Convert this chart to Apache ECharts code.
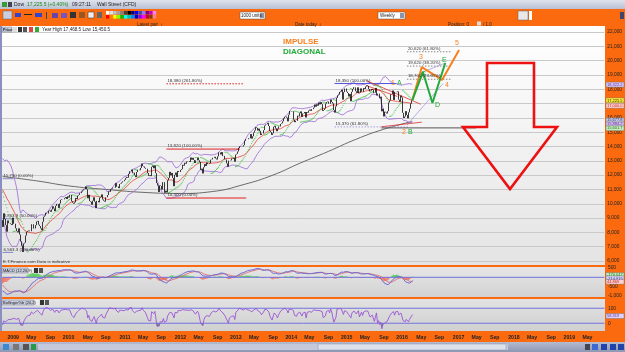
<!DOCTYPE html>
<html>
<head>
<meta charset="utf-8">
<script src="https://cdn.jsdelivr.net/npm/echarts@6/dist/echarts.min.js"></script>
<style>
  html, body { margin: 0; padding: 0; background: #fff; }
  #chart { width: 625px; height: 352px; }
</style>
</head>
<body>
<div id="chart"></div>
<script>
// weekly closes, Dow (Wall Street CFD), from 2008-06-06; the first 20 weeks only feed the indicators
const weeklyClose = [
  12210,12300,11840,11350, 11290,11100,11500,11370, 11330,11730,11660,11630,11540, 11220,11420,11390,11140, 10330,8450,8850,
  8380,9330, 8940,8500,8050,8830, 8640,8630,8580,8520,
  9030,8600,8280,8080,8000, 8280,7850,7370,7060, 6630,7220,7280,7780, 8020,8080,8130,8080, 8570,8570,8270,8280,8500, 8760,8800,8540,8440, 8280,8150,8740,9090,9170, 9370,9320,9500,9540, 9440,9600,9820,9670, 9490,9860,9990,9970,9710, 10020,10270,10320,10310, 10390,10470,10330,10520,
  10430,10620,10610,10170,10070, 10010,10100,10400,10330, 10570,10620,10740,10850, 10930,11000,11020,11200,11010, 10380,10620,10190,10140, 9930,10210,10450,10140, 9690,10200,10100,10420,10470, 10650,10300,10210,10150, 10450,10460,10610,10860, 10830,11010,11060,11130,11120, 11440,11190,11200,11090, 11380,11410,11490,11570,11580,
  11670,11790,11870,11820, 12090,12270,12390,12130, 12170,11990,11860,12220, 12380,12380,12340,12500,12810, 12640,12600,12510,12440, 12150,11950,12000,11930, 12580,12660,12480,12680,12140, 11440,11270,10820,11280, 11240,10990,11510,10770,10910, 10790,11640,11810,12230, 11980,12150,11800,11230, 12020,12180,11870,12290,12220,
  12360,12420,12720,12660, 12860,12800,12950,12980, 12980,12920,13230,13080,13210, 13060,12850,13030,13230, 13040,12920,12370,12450, 12120,12550,12770,12640,12880, 12770,12780,12820,13080, 13100,13210,13280,13160,13090, 13310,13590,13580,13440, 13610,13330,13340,13110, 13090,12820,12590,13010,13030, 13160,13140,13190,12940,
  13440,13490,13650,13900, 14010,13990,13980,14000, 14090,14400,14510,14510,14580, 14570,14870,14550,14710, 14970,15120,15350,15300,15120, 15250,15070,14800,14910, 15140,15460,15540,15560, 15660,15430,15080,15010,14810, 14920,15380,15450,15260, 15070,15240,15400,15570, 15620,15760,15960,16060,16090, 16020,15760,16220,16480,
  16470,16440,16460,15880,15700, 15790,16150,16100,16320, 16450,16070,16300,16320, 16410,16030,16410,16360, 16510,16580,16490,16610,16720, 16920,16780,16950,16850, 17070,16940,17100,16960, 16490,16550,16660,17000,17100, 17140,16990,17280,17110, 17010,16540,16380,16800,17390, 17570,17630,17810,17830, 17960,17280,17800,18050,
  17830,17740,17510,17670,17160, 17820,18020,18140,18130, 17860,17750,18130,17710, 17760,18060,17830,18080,18020, 18190,18270,18230,18010, 17850,17900,18020,17950, 17730,17760,18090,17570,17690, 17370,17480,16460,16640, 16100,16430,16380,16310, 16470,17080,17220,17650,17660, 17910,17250,17820,17800, 17850,17270,17130,17550,17430,
  16350,15990,16090,16470, 16200,15970,16390,16640, 17010,17220
];
const hiddenWeeks = 20;          // 2008-06-06 .. 2008-10-17
const firstWeek = Date.UTC(2008, 9, 24);
const weekCount = 566;           // axis runs on to mid 2019

// 200 week average
const ma200 = [
  ['2008-10-24',11900],['2009-06-05',11600],['2010-01-01',11250],['2010-09-03',11000],['2011-06-03',10780],
  ['2012-01-06',10720],['2012-08-03',10850],['2013-03-01',11350],['2013-09-06',12000],['2014-03-07',12850],
  ['2014-09-05',13650],['2015-03-06',14500],['2015-09-04',15200],['2016-03-11',15750]
];

// projected waves
const impulseWave  = [['2016-03-11',17220],['2016-05-13',19550],['2016-09-23',18650],['2017-01-13',20740]];
const diagonalWave = [['2016-03-11',17220],['2016-05-20',19200],['2016-07-22',17040],['2016-10-14',19830]];

// fibonacci levels: from, to, price, label, colour, type
const fibLevels = [
  ['2011-10-07','2013-03-01',18380,'18,380 (261.80%)','#e02020','dotted'],
  ['2011-10-07','2013-02-01',13820,'13,820 (100.00%)','#e02020','solid'],
  ['2011-10-07','2013-03-15',10400,'10,400 (0.00%)','#e02020','solid'],
  ['2014-10-17','2015-11-27',18400,'18,350 (100.00%)','#5555dd','solid'],
  ['2014-10-17','2016-02-12',15370,'15,370 (61.80%)','#a89ce0','dotted'],
  ['2015-08-21','2017-05-05',15300,'','#555555','solid'],
  ['2016-02-05','2016-11-25',20620,'20,620 (61.80%)','#888888','dotted'],
  ['2016-02-05','2016-11-25',19620,'19,620 (38.20%)','#888888','dotted'],
  ['2016-02-05','2016-11-25',18700,'18,700 (23.60%)','#888888','dotted'],
  ['2008-10-24','2009-01-02',11750,'11,750 (0.00%)','#8888cc','solid'],
  ['2008-10-24','2009-01-02',8950,'8,863.9 (50.00%)','#8888cc','solid'],
  ['2008-10-24','2009-01-02',6600,'6,563.3 (100.00%)','#8888cc','solid']
];

// channel and trend lines
const trendLines = [
  [['2016-02-05',15500],['2016-09-30',18400],'#a89ce0'],
  [['2016-05-20',19200],['2016-10-14',19830],'#a89ce0'],
  [['2015-05-15',18600],['2016-05-06',16950],'#e03030'],
  [['2015-08-21',15380],['2016-05-13',15700],'#e03030'],
  [['2015-05-15',18250],['2015-12-04',17500],'#e03030']
];

const weeks = [];
for (let k = 0; k < weekCount; k++) weeks.push(new Date(firstWeek + k * 7 * 864e5).toISOString().slice(0, 10));
const wk = s => Math.round((Date.parse(s) - firstWeek) / (7 * 864e5));

// indicators from the closes
const opens = weeklyClose.map((c, i) => i ? weeklyClose[i - 1] : c);
const highs = weeklyClose.map((c, i) => Math.max(c, opens[i]));
const lows = weeklyClose.map((c, i) => Math.min(c, opens[i]));
function ema(a, n) { const k = 2 / (n + 1); let p = a[0]; return a.map((v, i) => (p = i ? v * k + p * (1 - k) : v)); }
const bbMid = [], bbUp = [], bbLo = [];
weeklyClose.forEach((c, i) => {
  const w = weeklyClose.slice(Math.max(0, i - 19), i + 1);
  const m = w.reduce((s, v) => s + v, 0) / w.length;
  const sd = Math.sqrt(w.reduce((s, v) => s + (v - m) * (v - m), 0) / w.length);
  bbMid.push(m); bbUp.push(m + 2 * sd); bbLo.push(m - 2 * sd);
});
const e12 = ema(weeklyClose, 12), e26 = ema(weeklyClose, 26);
const macd = e12.map((v, i) => v - e26[i]);
const signal = ema(macd, 9);
const hist = macd.map((v, i) => v - signal[i]);
const pctB = weeklyClose.map((c, i) => bbUp[i] > bbLo[i] ? (c - bbLo[i]) / (bbUp[i] - bbLo[i]) * 100 : 50);
function psar(hi, lo) {
  const out = [lo[0]]; let up = true, af = 0.02, ep = hi[0], sar = lo[0];
  for (let i = 1; i < hi.length; i++) {
    sar = sar + af * (ep - sar);
    if (up) {
      sar = Math.min(sar, lo[i - 1], lo[Math.max(0, i - 2)]);
      if (lo[i] < sar) { up = false; sar = ep; ep = lo[i]; af = 0.02; }
      else if (hi[i] > ep) { ep = hi[i]; af = Math.min(af + 0.02, 0.2); }
    } else {
      sar = Math.max(sar, hi[i - 1], hi[Math.max(0, i - 2)]);
      if (hi[i] > sar) { up = true; sar = ep; ep = hi[i]; af = 0.02; }
      else if (lo[i] < ep) { ep = lo[i]; af = Math.min(af + 0.02, 0.2); }
    }
    out.push(sar);
  }
  return out;
}
const sar = psar(highs, lows);

const vis = a => a.slice(hiddenWeeks);
const candles = vis(weeklyClose.map((c, i) => [opens[i], c, lows[i], highs[i]]));
const ORANGE = '#fb6a0e';
const FONT = 'Liberation Sans';

const series = [];
const line = (name, data, color, width, xi, extra) => Object.assign({
  name, type: 'line', data, xAxisIndex: xi || 0, yAxisIndex: xi || 0, symbol: 'none',
  lineStyle: { color, width }, silent: true, z: 3
}, extra || {});

series.push(line('ma200', ma200.map(p => [wk(p[0]), p[1]]), '#5a5a5a', 0.9, 0, { smooth: true }));
series.push(line('bbUp', vis(bbUp), '#9a66d8', 0.8));
series.push(line('bbLo', vis(bbLo), '#9a66d8', 0.8));
series.push(line('bbMid', vis(bbMid), '#e8403a', 0.8));
series.push({ name: 'sar', type: 'scatter', data: vis(sar).map((v, i) => [i, v]), symbolSize: 1.2,
  itemStyle: { color: '#33bb33' }, silent: true, z: 3 });
series.push({ name: 'price', type: 'candlestick', data: candles, barWidth: 1.3, z: 4,
  itemStyle: { color: '#0a0a0a', color0: '#0a0a0a', borderColor: '#0a0a0a', borderColor0: '#0a0a0a', borderWidth: 0.8 } });

fibLevels.forEach(f => {
  series.push(line('fib', [[wk(f[0]), f[2]], [wk(f[1]), f[2]]], f[4], 1, 0,
    { lineStyle: { color: f[4], width: 1, type: f[5] === 'dotted' ? [1.5, 1.5] : 'solid' } }));
});
trendLines.forEach(t => series.push(line('trend', [[wk(t[0][0]), t[0][1]], [wk(t[1][0]), t[1][1]]], t[2], 0.8)));
series.push(line('impulse', impulseWave.map(p => [wk(p[0]), p[1]]), '#f7801e', 2, 0, { z: 6 }));
series.push(line('diagonal', diagonalWave.map(p => [wk(p[0]), p[1]]), '#22aa3a', 2, 0, { z: 6 }));

// MACD panel
series.push({ name: 'hist', type: 'bar', xAxisIndex: 1, yAxisIndex: 1, barWidth: 1.2, silent: true,
  data: vis(hist).map(v => ({ value: v, itemStyle: { color: v >= 0 ? '#5fcf5f' : '#f07a6a' } })) });
series.push(line('zero', [[0, 0], [weekCount - 1, 0]], '#7373e0', 1, 1));
series.push(line('signal', vis(signal), '#e06060', 0.8, 1));
series.push(line('macd', vis(macd), '#6a6ad8', 1, 1));

// Bollinger %b panel
const osc = vis(pctB);
series.push(line('hiFill', osc.map(v => Math.max(v, 100)), '#000', 0, 2,
  { lineStyle: { width: 0 }, areaStyle: { origin: 100, color: '#9c6a78', opacity: 1 } }));
series.push(line('loFill', osc.map(v => Math.min(v, 0)), '#000', 0, 2,
  { lineStyle: { width: 0 }, areaStyle: { origin: 0, color: '#5c9c5c', opacity: 1 } }));
series.push(line('l100', [[0, 100], [weekCount - 1, 100]], '#7373e0', 1, 2));
series.push(line('l0', [[0, 0], [weekCount - 1, 0]], '#7373e0', 1, 2));
series.push(line('osc', osc, '#9a55d6', 0.9, 2));

const grids = [
  { left: 2, right: 20, top: 32, height: 229 },
  { left: 2, right: 20, top: 268, height: 28 },
  { left: 2, right: 20, top: 300, height: 30 }
];
const xAxes = grids.map((g, i) => ({
  type: 'category', gridIndex: i, data: weeks, boundaryGap: true,
  axisLine: { show: false }, axisTick: { show: false }, splitLine: { show: false },
  axisLabel: i < 2 ? { show: false } : {
    interval: (n, v) => { const d = new Date(v); return d.getUTCDate() <= 7 && d.getUTCMonth() % 4 === 0; },
    formatter: v => { const d = new Date(v); const m = d.getUTCMonth(); return m === 0 ? String(d.getUTCFullYear()) : (m === 4 ? 'May' : 'Sep'); },
    fontSize: 5.2, color: '#222', fontWeight: 'bold', fontFamily: FONT, margin: 5, align: 'center'
  }
}));
const yLabel = { fontSize: 4.8, color: '#222', fontFamily: FONT, margin: 3 };
const yAxes = [
  { gridIndex: 0, position: 'right', min: 6000, max: 22000, interval: 1000,
    axisLabel: Object.assign({ formatter: v => v.toLocaleString('en-US') }, yLabel),
    axisLine: { show: false }, axisTick: { show: false }, splitLine: { lineStyle: { color: '#c9c9c9', width: 1 } } },
  { gridIndex: 1, position: 'right', min: -1000, max: 500, interval: 500,
    axisLabel: Object.assign({ formatter: v => v === 0 ? '' : v.toLocaleString('en-US') }, yLabel),
    axisLine: { show: false }, axisTick: { show: false }, splitLine: { show: false } },
  { gridIndex: 2, position: 'right', min: -45, max: 155, interval: 5,
    axisLabel: Object.assign({ formatter: v => (v === 0 || v === 100) ? String(v) : '' }, yLabel),
    axisLine: { show: false }, axisTick: { show: false }, splitLine: { show: false } }
];

const txt = (x, y, text, size, color, extra) => ({ type: 'text', x, y, z: 50, silent: true,
  style: Object.assign({ text, fontSize: size, fill: color, fontFamily: FONT }, extra || {}) });
const rect = (x, y, w, h, fill, z, extra) => ({ type: 'rect', z: z === undefined ? -5 : z, silent: true,
  shape: { x, y, width: w, height: h }, style: Object.assign({ fill }, extra || {}) });
const grad = (a, b) => ({ type: 'linear', x: 0, y: 0, x2: 0, y2: 1, colorStops: [{ offset: 0, color: a }, { offset: 1, color: b }] });

const palette = ['#ffffff','#e0e0e0','#c0c0c0','#a0a0a0','#808080','#404040','#000000','#000080','#0000ff','#4040c0','#8080ff','#800080','#c000c0','#ff80ff',
                 '#ff0000','#ff8000','#ffff00','#80ff00','#00c000','#00ffff','#00c0c0','#0080ff','#0000c0','#8000ff','#ff00ff','#c00040','#804000','#ff8080'];
const graphics = [
  rect(0, 0, 625, 9, grad('#dfe3ee', '#b9c0d4')),
  rect(2, 2, 5, 5, '#3a9a3a', 1), rect(8, 2, 4, 5, '#445', 1),
  txt(14, 2, 'Dow', 5, '#222'), txt(27, 2, '17,225.5 (+0.40%)', 5, '#1a8a1a'), txt(72, 2, '09:27:11', 5, '#222'), txt(97, 2, 'Wall Street (CFD)', 5, '#222'),
  rect(0, 9, 625, 17, ORANGE),
  rect(3, 11, 9, 8, '#c9cfe0', 1, { stroke: '#667', lineWidth: 0.5 }),
  rect(15, 13, 6, 4, '#3344cc', 1), rect(24, 14, 8, 1, '#222', 1), rect(35, 13, 7, 4, '#3344cc', 1),
  rect(46, 12, 1, 7, '#444', 1), rect(52, 13, 6, 5, '#6644aa', 1), rect(61, 13, 6, 5, '#7755bb', 1),
  rect(70, 12, 6, 6, '#333', 1), rect(79, 12, 6, 6, '#995522', 1), rect(88, 12, 6, 6, '#eee', 1, { stroke: '#333', lineWidth: 0.5 }),
  rect(97, 12, 5, 6, '#666', 1),
  rect(240, 12, 25, 7, '#fff', 1, { stroke: '#555', lineWidth: 0.5 }), rect(260, 13, 4, 5, '#8a93b0', 1), txt(241, 13.5, '1000 units', 4.5, '#222'),
  rect(378, 12, 27, 7, '#fff', 1, { stroke: '#555', lineWidth: 0.5 }), rect(400, 13, 4, 5, '#8a93b0', 1), txt(380, 13.5, 'Weekly', 4.5, '#222'),
  rect(518, 11, 10, 9, '#e8e8e8', 1, { stroke: '#666', lineWidth: 0.5 }), rect(529, 11, 3, 9, '#fff', 1),
  rect(620, 12, 4, 7, '#446', 1),
  txt(137, 22, 'Latest pair  \u2195', 4.5, '#222'), txt(295, 22, 'Date today  \u2195', 4.5, '#222'),
  txt(448, 22, 'Position: 0', 4.5, '#222'), rect(477, 21.5, 4, 4, '#ddd', 1), txt(483, 22, '/ 1.0', 4.5, '#222'),
  rect(2, 26, 603, 239, grad('#ffffff', '#e4e4e4'), -10),
  rect(2, 267, 603, 30, grad('#e6e6e6', '#d2d2d2'), -10),
  rect(2, 299, 603, 32, grad('#e2e2e2', '#d0d0d0'), -10),
  rect(605, 26, 20, 316, ORANGE, -4),
  rect(0, 265, 605, 2, ORANGE, 20), rect(0, 297, 605, 2, ORANGE, 20),
  rect(0, 331, 625, 11, ORANGE, -4),
  rect(0, 26, 2, 305, '#8b8fbf', 20),
  rect(0, 342, 625, 10, grad('#b4bbd2', '#8e97b3'), 20),
  rect(38, 344, 470, 6, '#c4cadb', 21), rect(318, 344, 188, 6, '#dde1ec', 21, { stroke: '#8890aa', lineWidth: 0.5 }),
  rect(3, 344, 6, 6, '#3a8ad0', 21), rect(13, 344, 6, 6, '#777', 21), rect(23, 344, 6, 6, '#555', 21), rect(31, 344, 5, 6, '#2a9a4a', 21),
  rect(585, 344, 5, 6, '#445', 21), rect(592, 344, 6, 6, '#3a6ad0', 21), rect(601, 344, 6, 6, '#2244aa', 21), rect(610, 344, 6, 6, '#2244aa', 21), rect(618, 344, 6, 6, '#2244aa', 21),
  rect(2, 27, 10, 5, '#c9cfe0', 21, { stroke: '#667', lineWidth: 0.4 }), txt(3, 27.8, 'Price', 3.8, '#222', { fontWeight: 'bold' }),
  rect(13, 27, 4, 5, '#ddd', 21), rect(18, 27, 4, 5, '#333', 21), rect(23, 27, 4, 5, '#555', 21), rect(29, 27, 4, 5, '#d44', 21), rect(35, 27, 4, 5, '#3a3', 21),
  txt(42, 27.6, 'Year High 17,468.5 Low 15,450.5', 4.6, '#222'),
  txt(3, 260, 'E.T.Finance.com Data is indicative', 4.4, '#333'),
  rect(2, 268, 26, 5, '#c9cfe0', 21, { stroke: '#667', lineWidth: 0.4 }), txt(3, 268.6, 'MACD (12,26,9)', 4, '#222'),
  rect(29, 268, 4, 5, '#eee', 21), rect(34, 268, 4, 5, '#333', 21), rect(39, 268, 4, 5, '#555', 21),
  rect(2, 300, 32, 5, '#c9cfe0', 21, { stroke: '#667', lineWidth: 0.4 }), txt(3, 300.6, 'Bollinger%b (20,2)', 4, '#222'),
  rect(35, 300, 4, 5, '#eee', 21), rect(40, 300, 4, 5, '#333', 21), rect(45, 300, 4, 5, '#555', 21),
  txt(283, 38, 'IMPULSE', 8, '#f7801e', { fontWeight: 'bold' }),
  txt(283, 48, 'DIAGONAL', 8, '#22aa3a', { fontWeight: 'bold' }),
  txt(391, 80, '1', 7, '#f7801e'), txt(397, 80, 'A', 7, '#22aa3a'),
  txt(402, 129, '2', 7, '#f7801e'), txt(408, 129, 'B', 7, '#22aa3a'),
  txt(419, 54, '3', 7, '#f7801e'), txt(445, 82, '4', 7, '#f7801e'), txt(455, 40, '5', 7, '#f7801e'),
  txt(421, 71, 'C', 7, '#22aa3a'), txt(435, 102, 'D', 7, '#22aa3a'), txt(442, 57, 'E', 7, '#22aa3a'),
  { type: 'polygon', z: 40, silent: true,
    shape: { points: [[487, 63], [534, 63], [534, 127], [557, 127], [510, 189], [463, 127], [487, 127]] },
    style: { fill: 'none', stroke: '#ee1111', lineWidth: 2.6 } }
];
palette.forEach((c, i) => graphics.push(rect(106 + (i % 14) * 3.6, 11 + Math.floor(i / 14) * 4, 3.4, 3.6, c, 1)));

const chart = echarts.init(document.getElementById('chart'), null, { renderer: 'canvas' });
chart.setOption({
  animation: false,
  backgroundColor: '#ffffff',
  textStyle: { fontFamily: FONT },
  grid: grids,
  xAxis: xAxes,
  yAxis: yAxes,
  series,
  graphic: graphics
});

// fibonacci captions sit just above the start of each level
const fibText = fibLevels.filter(f => f[3]).map(f => {
  const p = chart.convertToPixel({ xAxisIndex: 0, yAxisIndex: 0 }, [wk(f[0]), f[2]]);
  return txt(p[0] + 1, p[1] - 5, f[3], 4.4, '#333');
});

// coloured value tags on the right scale
const last = weeklyClose.length - 1;
const fmt = v => v.toFixed(1).replace(/\B(?=(\d{3})+(?!\d))/, ',');
const tag = (gi, v, txtv, fill, color) => {
  const y = chart.convertToPixel({ gridIndex: gi }, [0, v])[1];
  return [rect(606, y - 2.5, 18, 5, fill, 30, { stroke: '#666', lineWidth: 0.4 }), Object.assign(txt(607, y - 2, txtv, 4, color), { z: 31 })];
};
const tags = [].concat(
  tag(0, bbUp[last], fmt(bbUp[last]), '#d9c8f4', '#6030a0'),
  tag(0, weeklyClose[last], '17,225.5', '#ffee33', '#222'),
  tag(0, bbMid[last] - 150, fmt(bbMid[last]), '#ffd2d2', '#d02020'),
  tag(0, bbLo[last] + 150, fmt(bbLo[last]), '#c8cbe8', '#333366'),
  tag(0, bbLo[last] - 130, '15,884.2', '#d8c0ee', '#6030a0'),
  tag(0, bbLo[last] - 400, '15,601.7', '#c8ecc0', '#207020'),
  tag(1, 120, macd[last].toFixed(3), '#c8ecc0', '#207020'),
  tag(1, -60, signal[last].toFixed(3), '#d9d4f4', '#4040a0'),
  tag(1, -230, hist[last].toFixed(3), '#ffd2d2', '#c02020'),
  tag(2, pctB[last] - 10, pctB[last].toFixed(3), '#e0d0f6', '#6030a0')
);
chart.setOption({ graphic: graphics.concat(fibText, tags) });
</script>
</body>
</html>
